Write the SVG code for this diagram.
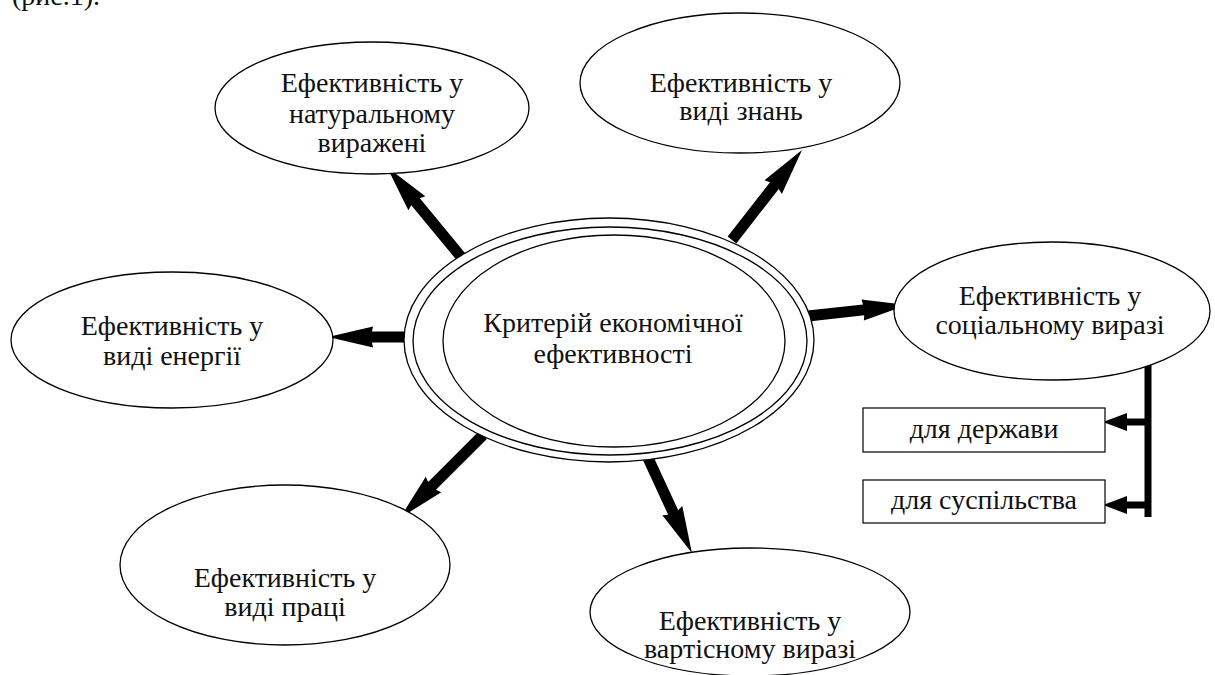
<svg xmlns="http://www.w3.org/2000/svg" width="1215" height="675" viewBox="0 0 1215 675">
<style>
.e{fill:#fff;stroke:#000;stroke-width:1.3}
.r{fill:#fff;stroke:#000;stroke-width:1.2}
text{font-family:"Liberation Serif","Times New Roman",serif;font-size:28px;fill:#111;text-anchor:middle}
.a{fill:#000}
</style>
<rect width="1215" height="675" fill="#fff"/>
<text x="12" y="5" style="text-anchor:start">(рис.1).</text>

<g id="connectors">
  <polygon class="a" transform="translate(462,258) rotate(-129.5)" points="0,-5.5 73,-5.5 71,-11 118,0 71,11 73,5.5 0,5.5"/>
  <polygon class="a" transform="translate(732,240) rotate(-52.1)" points="0,-5.5 69,-5.5 67,-11 114,0 67,11 69,5.5 0,5.5"/>
  <polygon class="a" transform="translate(415,337) rotate(180)" points="0,-5.5 43,-5.5 42,-10.5 87,0 42,10.5 43,5.5 0,5.5"/>
  <polygon class="a" transform="translate(808,316) rotate(-6.3)" points="0,-5.5 56,-5.5 55,-10.5 99.6,0 55,10.5 56,5.5 0,5.5"/>
  <polygon class="a" transform="translate(483,435) rotate(135)" points="0,-5.5 72,-5.5 70,-11 117.4,0 70,11 72,5.5 0,5.5"/>
  <polygon class="a" transform="translate(648,458) rotate(65.2)" points="0,-5.5 60,-5.5 58,-11 104.7,0 58,11 60,5.5 0,5.5"/>
  <rect class="a" x="1144.5" y="360" width="7" height="157"/>
  <polygon class="a" points="1148,418.5 1127,418.5 1127,413 1103,422 1127,431 1127,425.5 1148,425.5"/>
  <polygon class="a" points="1148,501.5 1127,501.5 1127,496 1103,505 1127,514 1127,508.5 1148,508.5"/>
</g>

<g id="center">
  <ellipse class="e" cx="609" cy="340" rx="205" ry="122"/>
  <ellipse class="e" cx="610" cy="341" rx="197" ry="114"/>
  <ellipse class="e" cx="614" cy="341" rx="171" ry="106"/>
  <text x="613" y="332">Критерій економічної</text>
  <text x="613" y="363">ефективності</text>
</g>

<g id="natural">
  <ellipse class="e" cx="372" cy="108" rx="157" ry="66"/>
  <text x="372" y="92">Ефективність у</text>
  <text x="372" y="123">натуральному</text>
  <text x="372" y="152">виражені</text>
</g>

<g id="knowledge">
  <ellipse class="e" cx="740" cy="83" rx="160" ry="70"/>
  <text x="741" y="92">Ефективність у</text>
  <text x="741" y="120">виді знань</text>
</g>

<g id="energy">
  <ellipse class="e" cx="172" cy="340" rx="161" ry="68"/>
  <text x="172" y="335">Ефективність у</text>
  <text x="172" y="365">виді енергії</text>
</g>

<g id="social">
  <ellipse class="e" cx="1052" cy="311" rx="158" ry="69"/>
  <text x="1050" y="305">Ефективність у</text>
  <text x="1050" y="334">соціальному виразі</text>
</g>

<g id="labour">
  <ellipse class="e" cx="285" cy="565" rx="165" ry="80"/>
  <text x="285" y="587">Ефективність у</text>
  <text x="285" y="616">виді праці</text>
</g>

<g id="value">
  <ellipse class="e" cx="750" cy="612" rx="160" ry="64"/>
  <text x="750" y="630">Ефективність у</text>
  <text x="750" y="658">вартісному виразі</text>
</g>

<g id="state">
  <rect class="r" x="863" y="408" width="242" height="44"/>
  <text x="984" y="438">для держави</text>
</g>

<g id="society">
  <rect class="r" x="863" y="480" width="242" height="43"/>
  <text x="984" y="509">для суспільства</text>
</g>
</svg>
